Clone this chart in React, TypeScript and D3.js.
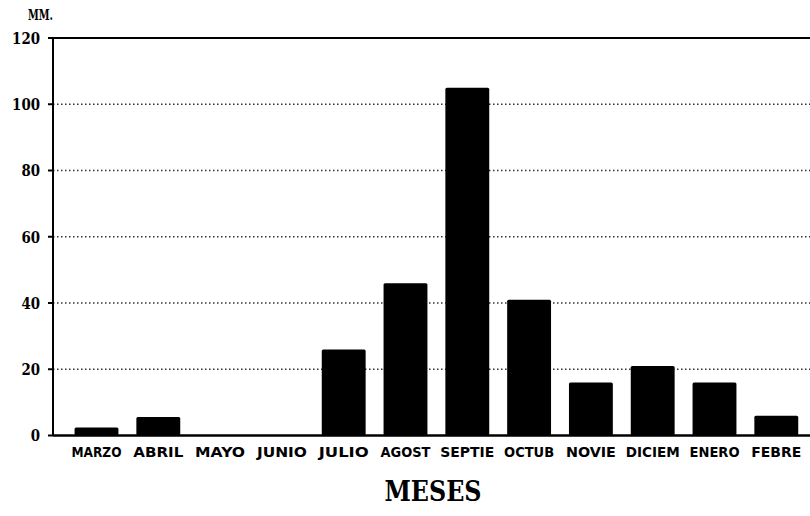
import React from "react";
import * as d3 from "d3";

const months = ["MARZO", "ABRIL", "MAYO", "JUNIO", "JULIO", "AGOST", "SEPTIE", "OCTUB", "NOVIE", "DICIEM", "ENERO", "FEBRE"];
const rainfall = [2.4, 5.6, 0, 0, 26, 46, 105, 41, 16, 21, 16, 6];
const yTicks = [0, 20, 40, 60, 80, 100, 120];

const W = 810;
const H = 516;
const axisX = 53;
const rightX = 810;

export default function App() {
  const x = d3.scaleBand<string>().domain(months).range([65.6, 807.2]).paddingInner(0.29).paddingOuter(0.145);
  const y = d3.scaleLinear().domain([0, 120]).range([435.5, 38]);
  const sans = "'DejaVu Sans', 'Liberation Sans', sans-serif";
  const serif = "'DejaVu Serif', 'Liberation Serif', serif";
  return (
    <svg width={W} height={H} style={{ position: "absolute", left: 0, top: 0, background: "#fff" }}>
      {yTicks.filter((t) => t > 0 && t < 120).map((t) => (
        <line key={"g" + t} x1={axisX} x2={rightX} y1={y(t)} y2={y(t)} stroke="#333" strokeWidth={1.3} strokeDasharray="1.5 2.5" />
      ))}
      <line x1={axisX} x2={rightX} y1={y(120)} y2={y(120)} stroke="#000" strokeWidth={2} />
      {rainfall.map((v, i) => (
        v > 0 ? <rect key={months[i]} x={x(months[i])} y={y(v)} width={x.bandwidth()} height={y(0) - y(v)} fill="#000" rx={1.5} /> : null
      ))}
      <line x1={axisX} x2={axisX} y1={y(120)} y2={y(0)} stroke="#000" strokeWidth={2} />
      <line x1={axisX} x2={rightX} y1={y(0)} y2={y(0)} stroke="#000" strokeWidth={2.5} />
      {yTicks.map((t) => (
        <g key={"t" + t}>
          <line x1={axisX - 5} x2={axisX} y1={y(t)} y2={y(t)} stroke="#000" strokeWidth={2} />
          <text x={40} y={y(t)} dy="0.36em" textAnchor="end" fontFamily={serif} fontWeight="bold" fontSize={16} fill="#000"
            textLength={String(t).length * 9.3} lengthAdjust="spacingAndGlyphs">{t}</text>
        </g>
      ))}
      {months.map((m) => (
        <text key={"l" + m} x={(x(m) ?? 0) + x.bandwidth() / 2} y={457} textAnchor="middle" fontFamily={sans} fontWeight="bold" fontSize={14} fill="#000"
          textLength={m.length > 5 ? 54 : 50} lengthAdjust="spacingAndGlyphs">{m}</text>
      ))}
      <text x={28} y={20} fontFamily={serif} fontWeight="bold" fontSize={15} fill="#000" textLength={25} lengthAdjust="spacingAndGlyphs">MM.</text>
      <text x={433} y={501} textAnchor="middle" fontFamily={serif} fontWeight="bold" fontSize={27} fill="#000" textLength={97} lengthAdjust="spacingAndGlyphs">MESES</text>
    </svg>
  );
}
